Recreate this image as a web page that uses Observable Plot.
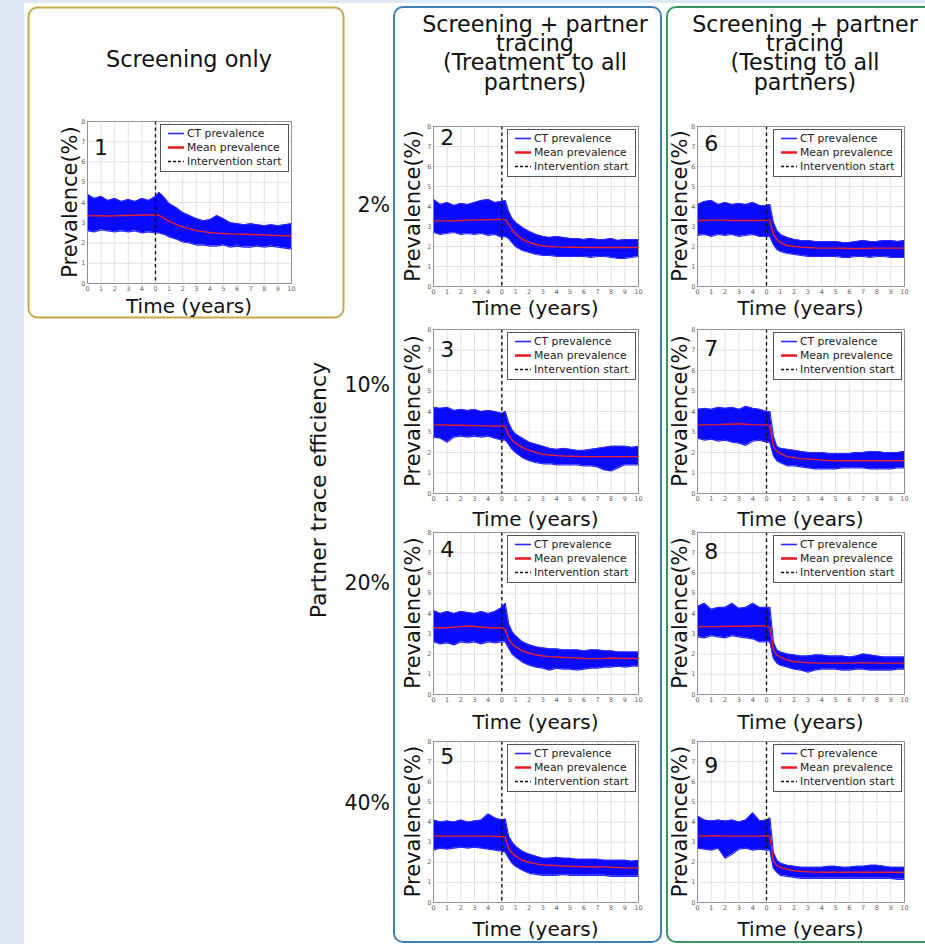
<!DOCTYPE html>
<html><head><meta charset="utf-8">
<script src="https://cdn.jsdelivr.net/npm/d3@7"></script>
<script src="https://cdn.jsdelivr.net/npm/@observablehq/plot@0.6"></script>
<style>
body{margin:0;background:#fff;font-family:"DejaVu Sans",sans-serif;}
#page{position:relative;width:925px;height:944px;overflow:hidden;background:#fff;}
.abs{position:absolute;}
</style></head><body><div id="page"></div>
<script>
// ---- data ----
const T = [-5,-4.5,-4,-3.5,-3,-2.5,-2,-1.5,-1,-0.5,0,0.25,0.5,0.75,1,1.5,2,2.5,3,3.5,4,4.5,5,5.5,6,6.5,7,7.5,8,8.5,9,9.5,10];
const xTicks = [-5,-4,-3,-2,-1,0,1,2,3,4,5,6,7,8,9,10];
const xTickLabels = ["0","1","2","3","4","0","1","2","3","4","5","6","7","8","9","10"];
const yTicks = [0,1,2,3,4,5,6,7,8];
const legendLabels = ["CT prevalence","Mean prevalence","Intervention start"];
const columnTitles = [["Screening only"],["Screening + partner","tracing","(Treatment to all","partners)"],["Screening + partner","tracing","(Testing to all","partners)"]];
const efficiencies = ["2%","10%","20%","40%"];
const rowLabel = "Partner trace efficiency";

const mean1 = [3.35,3.34,3.35,3.33,3.34,3.36,3.36,3.37,3.38,3.38,3.38,3.37,3.28,3.17,3.07,2.92,2.8,2.7,2.62,2.56,2.52,2.49,2.47,2.45,2.44,2.43,2.42,2.41,2.4,2.38,2.37,2.36,2.37];
const upper1 = [4.4,4.2,4.3,4.1,4.2,4.05,4.15,4.05,4.2,4.1,4.3,4.5,4.35,4.15,3.95,3.75,3.5,3.35,3.2,3.1,3.15,3.35,3.2,3.0,2.95,2.9,2.95,2.9,2.85,2.9,2.85,2.9,2.95];
const lower1 = [2.6,2.55,2.65,2.6,2.55,2.6,2.55,2.6,2.5,2.55,2.5,2.5,2.45,2.4,2.3,2.2,2.05,2.0,1.9,1.9,1.85,1.85,1.9,1.8,1.85,1.8,1.8,1.85,1.8,1.85,1.8,1.75,1.7];

const mean2 = [3.28,3.28,3.28,3.29,3.3,3.31,3.32,3.33,3.34,3.35,3.35,3.33,3.12,2.85,2.62,2.36,2.2,2.1,2.04,2.0,1.98,1.97,1.96,1.96,1.95,1.95,1.95,1.95,1.95,1.95,1.95,1.95,1.95];
const upper2 = [4.35,4.1,4.2,4.05,4.15,4.1,4.2,4.3,4.35,4.2,4.25,4.3,3.75,3.4,3.2,2.95,2.75,2.6,2.5,2.45,2.5,2.45,2.4,2.4,2.35,2.4,2.35,2.35,2.4,2.3,2.35,2.35,2.35];
const lower2 = [2.7,2.6,2.65,2.7,2.6,2.65,2.6,2.65,2.55,2.6,2.45,2.5,2.4,2.2,2.0,1.8,1.7,1.6,1.55,1.55,1.5,1.5,1.5,1.5,1.5,1.45,1.5,1.5,1.45,1.4,1.4,1.45,1.5];

const mean3 = [3.35,3.35,3.34,3.33,3.33,3.32,3.31,3.3,3.3,3.28,3.3,3.28,2.85,2.6,2.45,2.25,2.1,2.0,1.92,1.88,1.85,1.83,1.82,1.81,1.8,1.8,1.8,1.8,1.8,1.8,1.8,1.8,1.8];
const upper3 = [4.2,4.15,4.2,4.05,4.1,4.05,4.1,4.0,4.05,4.0,3.9,4.0,3.45,3.1,2.9,2.7,2.5,2.4,2.3,2.2,2.15,2.2,2.15,2.1,2.1,2.15,2.2,2.25,2.3,2.3,2.3,2.25,2.3];
const lower3 = [2.75,2.7,2.5,2.75,2.8,2.75,2.8,2.75,2.8,2.7,2.6,2.6,2.4,2.15,2.0,1.75,1.6,1.5,1.45,1.45,1.4,1.4,1.4,1.4,1.35,1.35,1.3,1.15,1.1,1.25,1.4,1.4,1.4];

const mean4 = [3.3,3.3,3.3,3.32,3.35,3.38,3.36,3.33,3.3,3.3,3.3,3.22,2.72,2.5,2.35,2.15,2.05,1.96,1.9,1.87,1.85,1.83,1.82,1.8,1.78,1.77,1.77,1.78,1.8,1.79,1.78,1.78,1.78];
const upper4 = [4.15,4.0,4.1,4.0,4.1,4.05,4.0,4.1,4.0,4.1,4.3,4.5,3.5,3.1,2.9,2.6,2.45,2.35,2.3,2.25,2.25,2.2,2.2,2.2,2.15,2.2,2.2,2.15,2.15,2.1,2.1,2.1,2.1];
const lower4 = [2.6,2.5,2.55,2.45,2.6,2.55,2.6,2.5,2.6,2.55,2.6,2.6,2.3,2.0,1.85,1.6,1.45,1.35,1.3,1.2,1.3,1.25,1.25,1.2,1.25,1.3,1.3,1.35,1.35,1.4,1.35,1.4,1.4];

const mean5 = [3.3,3.3,3.3,3.3,3.3,3.3,3.3,3.3,3.3,3.28,3.28,3.25,2.65,2.45,2.3,2.1,2.0,1.92,1.87,1.85,1.83,1.81,1.8,1.79,1.78,1.78,1.78,1.77,1.75,1.74,1.72,1.72,1.72];
const upper5 = [4.1,4.0,4.05,4.0,4.1,4.0,4.05,4.1,4.4,4.2,4.1,4.15,3.3,3.0,2.8,2.55,2.4,2.3,2.2,2.2,2.25,2.2,2.2,2.15,2.15,2.15,2.15,2.1,2.1,2.1,2.1,2.05,2.1];
const lower5 = [2.6,2.7,2.65,2.7,2.75,2.7,2.75,2.7,2.65,2.6,2.55,2.5,2.2,1.95,1.8,1.6,1.45,1.4,1.35,1.35,1.35,1.4,1.35,1.35,1.35,1.35,1.35,1.35,1.3,1.3,1.3,1.3,1.3];

const mean6 = [3.3,3.3,3.32,3.32,3.32,3.3,3.3,3.3,3.3,3.3,3.32,3.3,2.6,2.35,2.2,2.05,2.0,1.97,1.95,1.93,1.92,1.92,1.92,1.91,1.9,1.9,1.9,1.91,1.92,1.92,1.92,1.92,1.92];
const upper6 = [4.1,4.25,4.3,4.1,4.2,4.1,4.15,4.1,4.2,4.05,4.05,4.1,3.2,2.8,2.6,2.45,2.35,2.3,2.3,2.25,2.25,2.25,2.25,2.2,2.2,2.25,2.3,2.25,2.25,2.3,2.3,2.25,2.3];
const lower6 = [2.55,2.6,2.5,2.6,2.55,2.6,2.5,2.55,2.6,2.5,2.5,2.5,2.1,1.85,1.75,1.65,1.6,1.55,1.5,1.5,1.5,1.5,1.5,1.45,1.45,1.5,1.5,1.45,1.5,1.5,1.45,1.45,1.45];

const mean7 = [3.35,3.35,3.35,3.36,3.38,3.38,3.4,3.38,3.36,3.35,3.35,3.3,2.3,2.05,1.95,1.8,1.75,1.7,1.68,1.65,1.62,1.61,1.6,1.6,1.6,1.6,1.6,1.6,1.6,1.6,1.6,1.6,1.6];
const upper7 = [4.1,4.15,4.1,4.2,4.15,4.2,4.1,4.25,4.15,4.1,4.0,4.0,2.8,2.3,2.2,2.15,2.1,2.05,2.0,2.0,2.0,1.95,1.95,1.95,1.95,2.0,2.0,2.05,2.05,2.0,2.0,2.0,2.05];
const lower7 = [2.7,2.6,2.65,2.55,2.6,2.5,2.45,2.35,2.55,2.6,2.5,2.5,1.85,1.6,1.5,1.35,1.35,1.3,1.25,1.2,1.2,1.2,1.2,1.25,1.25,1.25,1.25,1.2,1.2,1.2,1.2,1.25,1.25];

const mean8 = [3.35,3.35,3.35,3.35,3.36,3.37,3.37,3.37,3.38,3.38,3.38,3.3,2.2,1.95,1.85,1.7,1.62,1.6,1.57,1.56,1.55,1.55,1.55,1.55,1.55,1.56,1.57,1.56,1.55,1.55,1.55,1.55,1.55];
const upper8 = [4.35,4.5,4.2,4.3,4.3,4.5,4.25,4.3,4.5,4.3,4.3,4.3,2.6,2.2,2.1,2.0,1.95,1.9,1.9,1.95,1.95,1.9,1.9,1.9,1.85,1.9,2.0,1.95,1.9,1.85,1.85,1.85,1.85];
const lower8 = [2.85,2.8,2.9,2.85,2.8,2.9,2.85,2.8,2.75,2.6,2.6,2.6,1.8,1.55,1.45,1.35,1.25,1.2,1.1,1.2,1.25,1.25,1.25,1.2,1.2,1.25,1.25,1.2,1.2,1.2,1.2,1.25,1.25];

const mean9 = [3.3,3.3,3.32,3.32,3.3,3.3,3.3,3.3,3.3,3.3,3.32,3.3,2.05,1.85,1.75,1.65,1.58,1.55,1.53,1.51,1.5,1.5,1.5,1.5,1.5,1.5,1.5,1.5,1.5,1.5,1.5,1.5,1.5];
const upper9 = [4.3,4.1,4.05,4.1,4.05,4.1,4.0,4.1,4.45,4.05,4.1,4.2,2.5,2.1,1.95,1.85,1.8,1.75,1.75,1.75,1.75,1.8,1.8,1.75,1.75,1.8,1.8,1.85,1.85,1.8,1.75,1.75,1.75];
const lower9 = [2.7,2.65,2.6,2.7,2.2,2.4,2.65,2.7,2.6,2.65,2.6,2.6,1.7,1.5,1.35,1.3,1.25,1.2,1.2,1.2,1.2,1.2,1.2,1.2,1.2,1.2,1.2,1.2,1.2,1.2,1.2,1.15,1.15];

// ---- layout ----
const page = document.getElementById("page");
const NS = "http://www.w3.org/2000/svg";
const COLS = [{L:87,R:291},{L:433,R:638},{L:697,R:904}];
const ROWS = [{T:126,B:286},{T:329,B:493},{T:532,B:694},{T:741,B:902}];
const panels = [
  {num:1, mean:mean1, upper:upper1, lower:lower1, L:87, R:291, T:121, B:283, ny:6.7, tY:304},
  {num:2, mean:mean2, upper:upper2, lower:lower2, col:1, row:0, ny:7.45},
  {num:3, mean:mean3, upper:upper3, lower:lower3, col:1, row:1, ny:7.0},
  {num:4, mean:mean4, upper:upper4, lower:lower4, col:1, row:2, ny:7.15},
  {num:5, mean:mean5, upper:upper5, lower:lower5, col:1, row:3, ny:7.25},
  {num:6, mean:mean6, upper:upper6, lower:lower6, col:2, row:0, ny:7.15},
  {num:7, mean:mean7, upper:upper7, lower:lower7, col:2, row:1, ny:7.05},
  {num:8, mean:mean8, upper:upper8, lower:lower8, col:2, row:2, ny:7.05},
  {num:9, mean:mean9, upper:upper9, lower:lower9, col:2, row:3, ny:6.8}
];
const timeLabelY = [306,517,720,927];
const ylabX = [70,413,680];
panels.forEach(p=>{
  if (p.col!==undefined){ p.L=COLS[p.col].L; p.R=COLS[p.col].R; p.T=ROWS[p.row].T; p.B=ROWS[p.row].B; p.tY=timeLabelY[p.row]; p.yx=ylabX[p.col]; }
  else { p.yx=ylabX[0]; }
});

// background svg
const bg = document.createElementNS(NS,"svg");
bg.setAttribute("width",925); bg.setAttribute("height",944);
bg.setAttribute("class","abs"); bg.style.left="0"; bg.style.top="0";
page.appendChild(bg);
function el(tag, attrs, text){ const e=document.createElementNS(NS,tag); for(const k in attrs) e.setAttribute(k,attrs[k]); if(text!==undefined) e.textContent=text; bg.appendChild(e); return e; }
el("rect",{x:0,y:0,width:24,height:944,fill:"#dde8f4"});
el("rect",{x:0,y:0,width:925,height:3,fill:"#dde8f4"});
el("rect",{x:28.5,y:7.5,width:315,height:310,rx:9,fill:"#fff",stroke:"#c9a84c","stroke-width":2});
el("rect",{x:394,y:7,width:267,height:935,rx:9,fill:"none",stroke:"#3f7fb3","stroke-width":2});
el("rect",{x:667,y:7,width:275,height:935,rx:9,fill:"none",stroke:"#3a9560","stroke-width":2});
const txt = {"font-family":"DejaVu Sans","fill":"#111"};
el("text",{...txt,x:189,y:67,"font-size":22.4,"text-anchor":"middle"},columnTitles[0][0]);
[535,805].forEach((cx,ci)=>{
  columnTitles[ci+1].forEach((line,li)=>{
    el("text",{...txt,x:cx,y:32+19.2*li,"font-size":22.2,"text-anchor":"middle"},line);
  });
});
const effY=[205,385,583,803];
efficiencies.forEach((e,i)=>el("text",{...txt,x:390,y:effY[i],dy:"0.35em","font-size":20.5,"text-anchor":"end"},e));
el("text",{...txt,x:0,y:0,"font-size":22,"text-anchor":"middle",dy:"0.35em",transform:"translate(318,490) rotate(-90)"},rowLabel);
panels.forEach(p=>{
  el("text",{...txt,x:(p.L+p.R)/2,y:p.tY+1.5,dy:"0.35em","font-size":20,"text-anchor":"middle"},"Time (years)");
  el("text",{...txt,x:0,y:0,dy:"0.35em","font-size":21,"text-anchor":"middle",transform:`translate(${p.yx},${(p.T+p.B)/2}) rotate(-90)`},"Prevalence(%)");
});

// plots
const ml=14, mr=4, mt=4, mb=12;
panels.forEach(p=>{
  const data = T.map((t,i)=>({t, mean:p.mean[i], hi:p.upper[i], lo:p.lower[i]}));
  const w = p.R-p.L, h = p.B-p.T;
  const chart = Plot.plot({
    width:w+ml+mr, height:h+mt+mb,
    marginLeft:ml, marginRight:mr, marginTop:mt, marginBottom:mb,
    style:{background:"transparent", overflow:"visible", fontFamily:"DejaVu Sans"},
    x:{domain:[-5,10]},
    y:{domain:[0,8]},
    marks:[
      Plot.gridX(xTicks,{stroke:"#d4d4d4", strokeOpacity:1, strokeWidth:0.7}),
      Plot.gridY(yTicks,{stroke:"#d4d4d4", strokeOpacity:1, strokeWidth:0.7}),
      Plot.axisX(xTicks,{tickSize:0, tickPadding:3, fontSize:6.5, fill:"#666", label:null, tickFormat:d=>xTickLabels[xTicks.indexOf(d)]}),
      Plot.axisY(yTicks,{tickSize:0, tickPadding:2, fontSize:6.5, fill:"#666", label:null}),
      Plot.areaY(data,{x:"t", y1:"lo", y2:"hi", fill:"#0a0aff"}),
      Plot.lineY(data,{x:"t", y:"hi", stroke:"#2a2aff", strokeWidth:1.2}),
      Plot.lineY(data,{x:"t", y:"lo", stroke:"#2a2aff", strokeWidth:1.2}),
      Plot.lineY(data,{x:"t", y:"mean", stroke:"#e8202a", strokeWidth:1.4}),
      Plot.ruleX([0],{stroke:"#111", strokeWidth:1.4, strokeDasharray:"3.5,3"}),
      Plot.text([{x:-4, y:p.ny, s:String(p.num)}],{x:"x", y:"y", text:"s", fontSize:22, fill:"#111"}),
      Plot.frame({stroke:"#8a8a8a", strokeWidth:0.9})
    ]
  });
  chart.classList.add("abs");
  chart.style.left=(p.L-ml)+"px"; chart.style.top=(p.T-mt)+"px";
  page.appendChild(chart);

  // legend
  const lw=129, lh=48;
  const lg = document.createElementNS(NS,"svg");
  lg.setAttribute("width",lw); lg.setAttribute("height",lh);
  lg.setAttribute("class","abs");
  lg.style.left=(p.R-2-lw)+"px"; lg.style.top=(p.T+3)+"px";
  const add=(tag,a,t)=>{const e=document.createElementNS(NS,tag); for(const k in a) e.setAttribute(k,a[k]); if(t!==undefined) e.textContent=t; lg.appendChild(e);};
  add("rect",{x:0.5,y:0.5,width:lw-1,height:lh-1,fill:"#fff",stroke:"#555","stroke-width":1});
  const rowsY=[9.5,23.5,37.5];
  add("line",{x1:8,x2:24,y1:rowsY[0],y2:rowsY[0],stroke:"#2a2aff","stroke-width":1.6});
  add("line",{x1:8,x2:24,y1:rowsY[1],y2:rowsY[1],stroke:"#e8202a","stroke-width":2.6});
  add("line",{x1:8,x2:24,y1:rowsY[2],y2:rowsY[2],stroke:"#111","stroke-width":1.4,"stroke-dasharray":"3,2"});
  legendLabels.forEach((s,i)=>add("text",{x:27,y:rowsY[i],dy:"0.35em","font-family":"DejaVu Sans","font-size":10.8,fill:"#222"},s));
  page.appendChild(lg);
});
</script>
</body></html>
